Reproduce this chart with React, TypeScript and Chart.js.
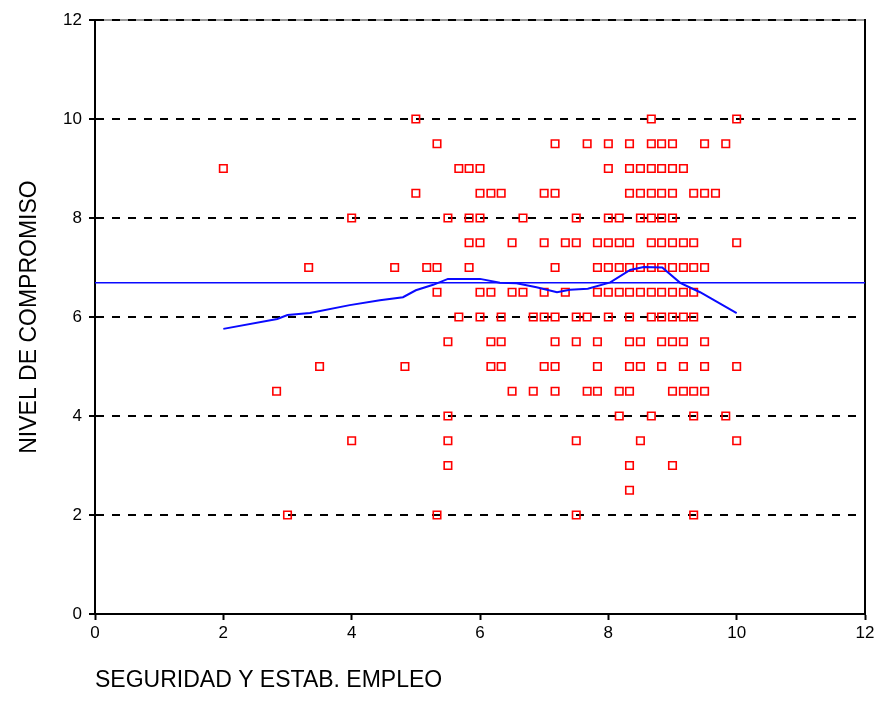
import React, { useEffect, useRef } from "react";
import { Chart, registerables } from "chart.js";

Chart.register(...registerables);

// Scatter data: x values (SEGURIDAD Y ESTAB. EMPLEO) grouped by y level (NIVEL DE COMPROMISO)
const y10 = [5.0, 8.67, 10.0];
const y9_5 = [5.33, 7.17, 7.67, 8.0, 8.33, 8.67, 8.83, 9.0, 9.5, 9.83];
const y9 = [2.0, 5.67, 5.83, 6.0, 8.0, 8.33, 8.5, 8.67, 8.83, 9.0, 9.17];
const y8_5 = [5.0, 6.0, 6.17, 6.33, 7.0, 7.17, 8.33, 8.5, 8.67, 8.83, 9.0, 9.33, 9.5, 9.67];
const y8 = [4.0, 5.5, 5.83, 6.0, 6.67, 7.5, 8.0, 8.17, 8.5, 8.67, 8.83, 9.0];
const y7_5 = [5.83, 6.0, 6.5, 7.0, 7.33, 7.5, 7.83, 8.0, 8.17, 8.33, 8.67, 8.83, 9.0, 9.17, 9.33, 10.0];
const y7 = [3.33, 4.67, 5.17, 5.33, 5.83, 7.17, 7.83, 8.0, 8.17, 8.33, 8.5, 8.67, 8.83, 9.0, 9.17, 9.33, 9.5];
const y6_5 = [5.33, 6.0, 6.17, 6.5, 6.67, 7.0, 7.33, 7.83, 8.0, 8.17, 8.33, 8.5, 8.67, 8.83, 9.0, 9.17, 9.33];
const y6 = [5.67, 6.0, 6.33, 6.83, 7.0, 7.17, 7.5, 7.67, 8.0, 8.33, 8.67, 8.83, 9.0, 9.17, 9.33];
const y5_5 = [5.5, 6.17, 6.33, 7.17, 7.5, 7.83, 8.33, 8.5, 8.83, 9.0, 9.17, 9.5];
const y5 = [3.5, 4.83, 6.17, 6.33, 7.0, 7.17, 7.83, 8.33, 8.5, 8.83, 9.17, 9.5, 10.0];
const y4_5 = [2.83, 6.5, 6.83, 7.17, 7.67, 7.83, 8.17, 8.33, 9.0, 9.17, 9.33, 9.5];
const y4 = [5.5, 8.17, 8.67, 9.33, 9.83];
const y3_5 = [4.0, 5.5, 7.5, 8.5, 10.0];
const y3 = [5.5, 8.33, 9.0];
const y2_5 = [8.33];
const y2 = [3.0, 5.33, 7.5, 9.33];

const levels: [number, number[]][] = [
  [10, y10], [9.5, y9_5], [9, y9], [8.5, y8_5], [8, y8], [7.5, y7_5], [7, y7],
  [6.5, y6_5], [6, y6], [5.5, y5_5], [5, y5], [4.5, y4_5], [4, y4], [3.5, y3_5],
  [3, y3], [2.5, y2_5], [2, y2],
];

// Mean line
const meanY = 6.69;
const meanX = [0, 12];

// Smoothed (loess) curve
const fitX = [2.0, 2.84, 3.0, 3.35, 3.97, 4.44, 4.8, 5.0, 5.27, 5.5, 6.0, 6.31, 6.57, 6.88, 7.2, 7.4, 7.68, 8.03, 8.34, 8.55, 8.84, 9.12, 9.43, 10.0];
const fitY = [5.76, 5.96, 6.04, 6.08, 6.24, 6.34, 6.4, 6.54, 6.65, 6.77, 6.77, 6.69, 6.68, 6.6, 6.5, 6.55, 6.57, 6.7, 6.95, 7.01, 7.0, 6.69, 6.5, 6.08];

const xTitle = "SEGURIDAD Y ESTAB. EMPLEO";
const yTitle = "NIVEL DE COMPROMISO";

const FONT = "'Liberation Sans', Arial, sans-serif";

const framePlugin = {
  id: "frame",
  beforeDraw(chart: any) {
    const { ctx, chartArea } = chart;
    ctx.save();
    ctx.strokeStyle = "#9a9a9a";
    ctx.lineWidth = 2;
    ctx.beginPath();
    ctx.moveTo(chartArea.left, chartArea.top);
    ctx.lineTo(chartArea.right, chartArea.top);
    ctx.stroke();
    ctx.strokeStyle = "#000";
    ctx.beginPath();
    ctx.moveTo(chartArea.right, chartArea.top - 1);
    ctx.lineTo(chartArea.right, chartArea.bottom);
    ctx.stroke();
    ctx.restore();
  },
};

export default function App() {
  const ref = useRef<HTMLCanvasElement | null>(null);

  useEffect(() => {
    if (!ref.current) return;
    const points: { x: number; y: number }[] = [];
    levels.forEach(([yv, xs]) => xs.forEach((xv) => points.push({ x: xv, y: yv })));
    const meanData = meanX.map((x) => ({ x, y: meanY }));
    const fitData = fitX.map((x, i) => ({ x, y: fitY[i] }));

    const chart = new Chart(ref.current, {
      type: "scatter",
      data: {
        datasets: [
          {
            label: "mean",
            data: meanData,
            showLine: true,
            borderColor: "#0a0aff",
            borderWidth: 1.5,
            pointRadius: 0,
            fill: false,
          },
          {
            label: "fit",
            data: fitData,
            showLine: true,
            borderColor: "#0a0aff",
            borderWidth: 2,
            pointRadius: 0,
            fill: false,
            tension: 0,
          },
          {
            label: "points",
            data: points,
            pointStyle: "rect",
            pointRadius: 5.3,
            pointBorderWidth: 1.6,
            borderColor: "#ff0000",
            backgroundColor: "rgba(0,0,0,0)",
          },
        ],
      },
      options: {
        responsive: false,
        animation: false,
        events: [],
        layout: { padding: { left: 0, right: 15, top: 20, bottom: 0 } },
        plugins: { legend: { display: false }, tooltip: { enabled: false } },
        scales: {
          x: {
            type: "linear",
            min: 0,
            max: 12,
            ticks: {
              stepSize: 2,
              color: "#000",
              padding: 3,
              font: { family: FONT, size: 17 },
              maxRotation: 0,
            },
            grid: {
              drawOnChartArea: false,
              drawTicks: true,
              tickLength: 6,
              tickWidth: 2,
              tickColor: "#000",
              color: "#000",
            },
            border: { display: true, color: "#000", width: 2 },
            title: {
              display: true,
              text: xTitle,
              align: "start",
              color: "#000",
              font: { family: FONT, size: 23 },
              padding: { top: 0, bottom: 25 },
            },
            afterFit(s: any) {
              s.height = 105;
              s.paddingLeft = 0;
              s.paddingRight = 0;
            },
          },
          y: {
            type: "linear",
            min: 0,
            max: 12,
            ticks: {
              stepSize: 2,
              color: "#000",
              padding: 7,
              font: { family: FONT, size: 17 },
            },
            grid: {
              drawOnChartArea: true,
              drawTicks: true,
              tickLength: 6,
              tickWidth: 2,
              tickColor: "#000",
              lineWidth: 2,
              color: (c: any) =>
                c.tick && c.tick.value === 0 ? "rgba(0,0,0,0)" : "#000",
            },
            border: { display: true, color: "#000", width: 2, dash: [8, 8] },
            title: {
              display: true,
              text: yTitle,
              color: "#000",
              font: { family: FONT, size: 23 },
              padding: { top: 16, bottom: 0 },
            },
            afterFit(s: any) {
              s.width = 95;
              s.paddingTop = 0;
              s.paddingBottom = 0;
            },
          },
        },
      },
      plugins: [framePlugin],
    } as any);
    return () => chart.destroy();
  }, []);

  return (
    <div style={{ position: "absolute", left: 0, top: 0, width: 880, height: 719, background: "#fff" }}>
      <canvas ref={ref} width={880} height={719} />
    </div>
  );
}
